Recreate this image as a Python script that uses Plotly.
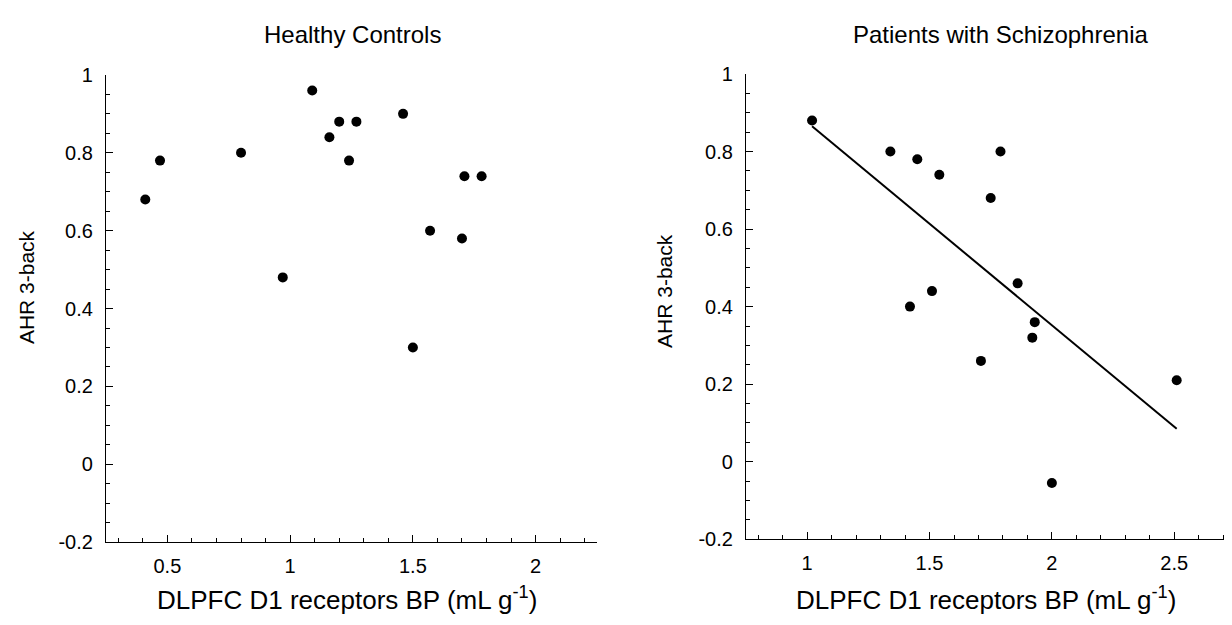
import plotly.graph_objects as go

# ---------------- data ----------------
hc_x = [0.41, 0.47, 0.80, 0.97, 1.09, 1.16, 1.20, 1.24, 1.27, 1.46, 1.50, 1.57, 1.70, 1.71, 1.78]
hc_y = [0.68, 0.78, 0.80, 0.48, 0.96, 0.84, 0.88, 0.78, 0.88, 0.90, 0.30, 0.60, 0.58, 0.74, 0.74]

sz_x = [1.02, 1.34, 1.42, 1.45, 1.51, 1.54, 1.71, 1.75, 1.79, 1.86, 1.92, 1.93, 2.00, 2.51]
sz_y = [0.88, 0.80, 0.40, 0.78, 0.44, 0.74, 0.26, 0.68, 0.80, 0.46, 0.32, 0.36, -0.055, 0.21]

fit_x = [1.02, 2.51]
fit_y = [0.865, 0.085]

y_tickvals = [-0.2, 0, 0.2, 0.4, 0.6, 0.8, 1]
y_ticktext = ["-0.2", "0", "0.2", "0.4", "0.6", "0.8", "1"]
hc_xtickvals = [0.5, 1, 1.5, 2]
hc_xticktext = ["0.5", "1", "1.5", "2"]
sz_xtickvals = [1, 1.5, 2, 2.5]
sz_xticktext = ["1", "1.5", "2", "2.5"]

panel_titles = ["Healthy Controls", "Patients with Schizophrenia"]
x_title = "DLPFC D1 receptors BP (mL g<sup>-1</sup>)"
y_title = "AHR 3-back"

# ---------------- figure ----------------
OFF = 8                      # page body margin of the html page
W, H = 1232 - OFF, 625 - OFF
FONT = "Liberation Sans, Arial, Helvetica, sans-serif"

fig = go.Figure()
marker = dict(color="black", size=10, line=dict(width=0))
fig.add_trace(go.Scatter(x=hc_x, y=hc_y, mode="markers", marker=marker,
                         xaxis="x", yaxis="y", showlegend=False))
fig.add_trace(go.Scatter(x=sz_x, y=sz_y, mode="markers", marker=marker,
                         xaxis="x2", yaxis="y2", showlegend=False))
fig.add_trace(go.Scatter(x=fit_x, y=fit_y, mode="lines", line=dict(color="black", width=2),
                         xaxis="x2", yaxis="y2", showlegend=False))

def px_x(p):
    return min(1.0, (p - OFF) / W)

def px_y(p):
    return 1 - (p - OFF) / H

common_x = dict(showgrid=False, zeroline=False, showline=True, linecolor="black", linewidth=1.3,
                ticks="inside", ticklen=7, tickwidth=1.2, tickcolor="black",
                tickfont=dict(family=FONT, size=20, color="black"), tickmode="array",
                minor=dict(dtick=0.1, ticks="inside", ticklen=4, tickwidth=1, tickcolor="black", showgrid=False),
                ticklabelstandoff=6)
common_y = dict(showgrid=False, zeroline=False, showline=True, linecolor="black", linewidth=1.3,
                ticks="inside", ticklen=7, tickwidth=1.2, tickcolor="black",
                tickfont=dict(family=FONT, size=20, color="black"), tickmode="array",
                tickvals=y_tickvals, ticktext=y_ticktext, range=[-0.2, 1],
                minor=dict(tickvals=[v / 100 for v in range(-20, 101, 5)], ticks="inside", ticklen=4,
                           tickwidth=1, tickcolor="black", showgrid=False),
                ticklabelstandoff=8)

fig.update_layout(
    width=W, height=H,
    margin=dict(l=0, r=0, t=0, b=0),
    paper_bgcolor="white", plot_bgcolor="white",
    xaxis=dict(common_x, domain=[px_x(106), px_x(597)], range=[0.25, 2.25],
               tickvals=hc_xtickvals, ticktext=hc_xticktext, anchor="y"),
    yaxis=dict(common_y, domain=[px_y(550.5), px_y(66)], anchor="x"),
    xaxis2=dict(common_x, domain=[px_x(746), 1.0], range=[0.75, 2.736],
                tickvals=sz_xtickvals, ticktext=sz_xticktext, anchor="y2"),
    yaxis2=dict(common_y, domain=[px_y(547.5), px_y(65)], anchor="x2"),
)

def note(text, x, y, size, angle=0):
    return dict(text=text, x=px_x(x), y=px_y(y), xref="paper", yref="paper",
                showarrow=False, xanchor="center", yanchor="middle", textangle=angle,
                font=dict(family=FONT, size=size, color="black"))

ann = [
    note(panel_titles[0], 352, 24, 24),
    note(panel_titles[1], 1000, 24, 24),
    note(x_title, 347, 609, 26),
    note(x_title, 986, 609, 26),
    note(y_title, 26, 286, 21, -90),
    note(y_title, 665, 290, 21, -90),
]
fig.update_layout(annotations=ann)

fig.write_html("out.html")
